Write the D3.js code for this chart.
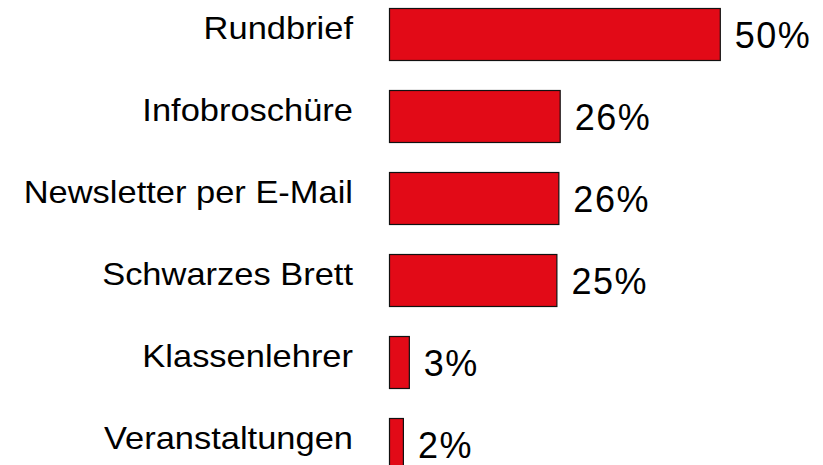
<!DOCTYPE html>
<html>
<head>
<meta charset="utf-8">
<script src="https://cdn.jsdelivr.net/npm/d3@7"></script>
<style>
  html, body { margin: 0; padding: 0; background: #fff; }
  svg { display: block; }
</style>
</head>
<body>
<script>
const categories = ["Rundbrief", "Infobroschüre", "Newsletter per E-Mail", "Schwarzes Brett", "Klassenlehrer", "Veranstaltungen"];
const values = [50, 25.8, 25.6, 25.3, 3.0, 2.1];
const valueLabels = ["50%", "26%", "26%", "25%", "3%", "2%"];

const W = 823, H = 465;
const svg = d3.select("body").append("svg").attr("width", W).attr("height", H);

const x = d3.scaleLinear().domain([0, 50]).range([389.5, 720.3]);
const y = d3.scaleBand().domain(categories).range([8.5, 470.5]).paddingInner(30 / 82).paddingOuter(0).align(0);

const data = categories.map((c, i) => ({ c, v: values[i], l: valueLabels[i] }));

svg.selectAll("rect.bar").data(data).enter().append("rect")
  .attr("class", "bar")
  .attr("x", x(0))
  .attr("y", d => y(d.c))
  .attr("width", d => x(d.v) - x(0))
  .attr("height", y.bandwidth())
  .attr("fill", "#e20a17")
  .attr("stroke", "#111")
  .attr("stroke-width", 1.2);

svg.selectAll("text.val").data(data).enter().append("text")
  .attr("class", "val")
  .attr("x", d => x(d.v) + 14.5)
  .attr("y", d => y(d.c) + y.bandwidth() / 2 + 13.5)
  .attr("font-family", "'Liberation Sans', Arial, Helvetica, sans-serif")
  .attr("font-size", 36)
  .attr("letter-spacing", "1.5px")
  .attr("fill", "#000")
  .text(d => d.l);

svg.selectAll("text.cat").data(data).enter().append("text")
  .attr("class", "cat")
  .attr("transform", d => `translate(353,${y(d.c) + y.bandwidth() / 2 + 4.2}) scale(1.13,1)`)
  .attr("text-anchor", "end")
  .attr("font-family", "'Liberation Sans', Arial, Helvetica, sans-serif")
  .attr("font-size", 30.5)
  .attr("fill", "#000")
  .text(d => d.c);
</script>
</body>
</html>
